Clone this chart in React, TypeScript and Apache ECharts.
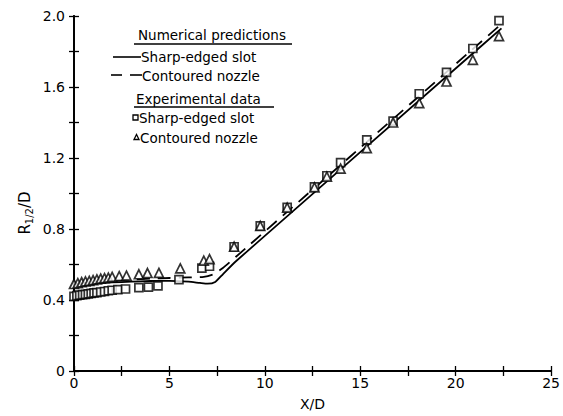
import React, { useEffect, useRef } from "react";
import * as echarts from "echarts";

// Numerical predictions: half-radius R1/2/D against axial distance X/D
const sharpLineX = [0, 1, 2, 3, 4, 5, 6, 6.6, 7.0, 7.4, 7.8, 8.47, 20.58, 22.4];
const sharpLineY = [0.49, 0.494, 0.499, 0.503, 0.507, 0.508, 0.503, 0.496, 0.492, 0.502, 0.545, 0.617, 1.759, 1.93];
const nozzleLineX = [0, 1, 2, 3, 4, 5, 6, 6.8, 7.3, 7.8, 8.47, 20.58, 22.4];
const nozzleLineY = [0.49, 0.5, 0.508, 0.515, 0.52, 0.524, 0.527, 0.53, 0.545, 0.58, 0.642, 1.784, 1.955];

// Experimental data
const sharpExpX = [0, 0.15, 0.3, 0.45, 0.6, 0.75, 0.9, 1.05, 1.2, 1.4, 1.6, 1.8, 2.0, 2.3, 2.7, 3.4, 3.9, 4.4, 5.5, 6.7, 7.1, 8.39, 9.76, 11.17, 12.6, 13.25, 13.97, 15.34, 16.72, 18.09, 19.52, 20.9, 22.27];
const sharpExpY = [0.42, 0.425, 0.428, 0.43, 0.432, 0.435, 0.437, 0.44, 0.442, 0.445, 0.448, 0.452, 0.455, 0.458, 0.462, 0.47, 0.472, 0.48, 0.515, 0.58, 0.59, 0.7, 0.818, 0.922, 1.037, 1.1, 1.174, 1.302, 1.408, 1.562, 1.682, 1.817, 1.974];
const nozzleExpX = [0, 0.2, 0.4, 0.6, 0.8, 1.0, 1.2, 1.4, 1.6, 1.8, 2.0, 2.37, 2.75, 3.4, 3.85, 4.45, 5.57, 6.8, 7.1, 8.39, 9.76, 11.17, 12.6, 13.25, 13.97, 15.34, 16.72, 18.09, 19.52, 20.9, 22.27];
const nozzleExpY = [0.49, 0.495, 0.5, 0.505, 0.508, 0.512, 0.516, 0.52, 0.523, 0.526, 0.53, 0.535, 0.537, 0.545, 0.552, 0.553, 0.578, 0.622, 0.63, 0.7, 0.818, 0.92, 1.035, 1.095, 1.14, 1.256, 1.4, 1.509, 1.631, 1.753, 1.887];

const xTickLabels = ["0", "5", "10", "15", "20", "25"];
const yTickLabels = ["0", "0.4", "0.8", "1.2", "1.6", "2.0"];

const FONT = "DejaVu Sans";

const pairs = (xs: number[], ys: number[]) => xs.map((x, i) => [x, ys[i]]);

export default function App() {
  const ref = useRef<HTMLDivElement>(null);

  useEffect(() => {
    if (!ref.current) return;
    const chart = echarts.init(ref.current, undefined, { renderer: "svg" });

    const axisLine = { show: true, lineStyle: { color: "#000", width: 1.8 } };
    const tick = { show: true, inside: true, length: 5, lineStyle: { color: "#000", width: 1.3 } };
    const labelStyle = { color: "#000", fontFamily: FONT, fontSize: 14 };

    const xLabel = (v: number) => {
      const s = String(v);
      return xTickLabels.includes(s) ? s : "";
    };
    const yLabel = (v: number) => {
      const s = v === 0 ? "0" : v.toFixed(1);
      return yTickLabels.includes(s) ? s : "";
    };

    const textStyle = { fill: "#000", font: `13.5px '${FONT}'`, textVerticalAlign: "middle" };

    chart.setOption({
      animation: false,
      backgroundColor: "#fff",
      grid: { left: 74, right: 4, top: 16, bottom: 35 },
      xAxis: [
        {
          type: "value", min: 0, max: 25, interval: 2.5, position: "bottom",
          axisLine, axisTick: tick, splitLine: { show: false },
          axisLabel: { ...labelStyle, margin: 5, formatter: xLabel, showMaxLabel: true },
          name: "X/D", nameLocation: "middle", nameGap: 26,
          nameTextStyle: { ...labelStyle },
        },
        {
          type: "value", min: 0, max: 25, interval: 2.5, position: "top",
          axisLine, axisTick: tick, splitLine: { show: false }, axisLabel: { show: false },
        },
      ],
      yAxis: [
        {
          type: "value", min: 0, max: 2, interval: 0.2, position: "left",
          axisLine, axisTick: tick, splitLine: { show: false },
          axisLabel: { ...labelStyle, margin: 9, formatter: yLabel },
        },
        {
          type: "value", min: 0, max: 2, interval: 0.2, position: "right",
          axisLine, axisTick: tick, splitLine: { show: false }, axisLabel: { show: false },
        },
      ],
      series: [
        {
          name: "Sharp-edged slot (numerical)", type: "line", showSymbol: false, smooth: 0.2,
          data: pairs(sharpLineX, sharpLineY),
          lineStyle: { color: "#000", width: 1.8 }, z: 2,
        },
        {
          name: "Contoured nozzle (numerical)", type: "line", showSymbol: false, smooth: 0.2,
          data: pairs(nozzleLineX, nozzleLineY),
          lineStyle: { color: "#000", width: 1.8, type: [13, 8] }, z: 2,
        },
        {
          name: "Sharp-edged slot (experimental)", type: "scatter", symbol: "rect", symbolSize: 8,
          data: pairs(sharpExpX, sharpExpY),
          itemStyle: { color: "#fff", borderColor: "#000", borderWidth: 1.7 }, z: 3,
        },
        {
          name: "Contoured nozzle (experimental)", type: "scatter", symbol: "triangle", symbolSize: 9,
          data: pairs(nozzleExpX, nozzleExpY),
          itemStyle: { color: "#fff", borderColor: "#000", borderWidth: 1.7 }, z: 3,
        },
      ],
      graphic: [
        // y-axis title with subscript
        {
          type: "text", x: 25, y: 213, rotation: Math.PI / 2, z: 10,
          style: {
            text: "{r|R}{s|1/2}{r|/D}",
            align: "center", verticalAlign: "middle",
            rich: {
              r: { fontFamily: FONT, fontSize: 15, fill: "#000", lineHeight: 18 },
              s: { fontFamily: FONT, fontSize: 10, fill: "#000", verticalAlign: "bottom", lineHeight: 11, padding: [7, 0, 0, 0] },
            },
          },
        },
        // legend block
        { type: "text", x: 138, y: 35, z: 10, style: { ...textStyle, text: "Numerical predictions" } },
        { type: "line", z: 10, shape: { x1: 134, y1: 44, x2: 292, y2: 44 }, style: { stroke: "#000", lineWidth: 1.3 } },
        { type: "line", z: 10, shape: { x1: 113, y1: 57, x2: 141, y2: 57 }, style: { stroke: "#000", lineWidth: 1.6 } },
        { type: "text", x: 141, y: 57, z: 10, style: { ...textStyle, text: "Sharp-edged slot" } },
        { type: "line", z: 10, shape: { x1: 111, y1: 75, x2: 122, y2: 75 }, style: { stroke: "#000", lineWidth: 1.6 } },
        { type: "line", z: 10, shape: { x1: 130, y1: 75, x2: 142, y2: 75 }, style: { stroke: "#000", lineWidth: 1.6 } },
        { type: "text", x: 142, y: 76, z: 10, style: { ...textStyle, text: "Contoured nozzle" } },
        { type: "text", x: 136, y: 99, z: 10, style: { ...textStyle, text: "Experimental data" } },
        { type: "line", z: 10, shape: { x1: 134, y1: 107, x2: 274, y2: 107 }, style: { stroke: "#000", lineWidth: 1.3 } },
        { type: "rect", z: 10, shape: { x: 133, y: 115, width: 5, height: 5 }, style: { fill: "#fff", stroke: "#000", lineWidth: 1.3 } },
        { type: "text", x: 139, y: 118, z: 10, style: { ...textStyle, text: "Sharp-edged slot" } },
        { type: "polygon", z: 10, shape: { points: [[134, 139.5], [139, 139.5], [136.5, 134.5]] }, style: { fill: "#fff", stroke: "#000", lineWidth: 1.3 } },
        { type: "text", x: 140, y: 138, z: 10, style: { ...textStyle, text: "Contoured nozzle" } },
      ],
    });

    return () => chart.dispose();
  }, []);

  return (
    <div
      ref={ref}
      style={{ position: "fixed", left: 0, top: 0, width: 563, height: 416, background: "#fff" }}
    />
  );
}
